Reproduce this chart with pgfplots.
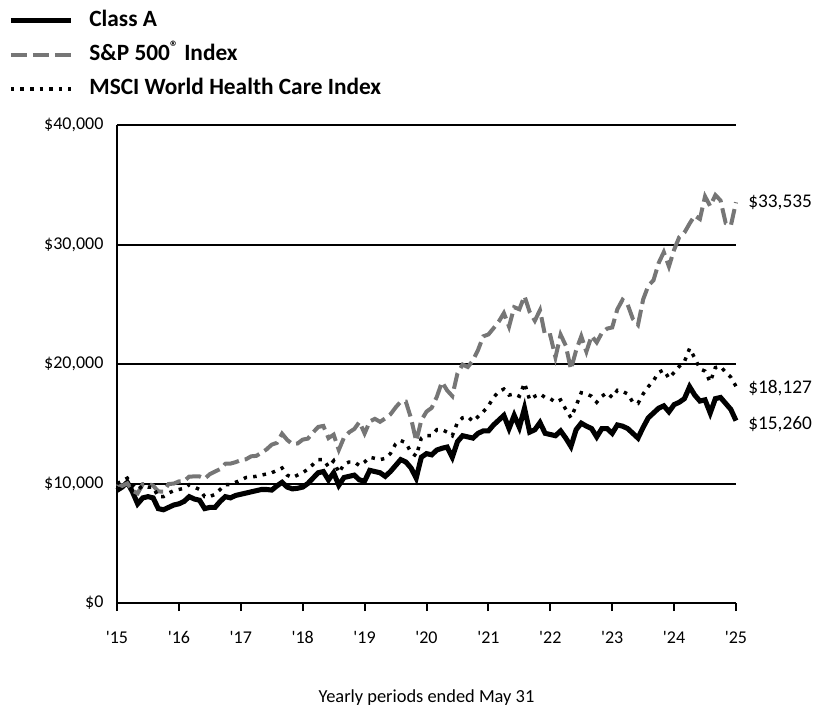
\documentclass[border=0pt]{standalone}
\usepackage{fontspec}
\setmainfont{Carlito}
\usepackage{pgfplots}
\usepackage{pgfplotstable}
\pgfplotsset{compat=1.18}
\definecolor{spgrey}{RGB}{118,118,118}

\pgfplotstableread{
m classa sp msci
0 9425 10000 10000
1 9700 9806 10200
2 10100 10012 10450
3 9300 9408 9900
4 8300 9176 9500
5 8800 9950 9800
6 8900 9980 9700
7 8800 9822 9700
8 7900 9335 8900
9 7800 9323 8900
10 8000 9955 9200
11 8200 9994 9400
12 8300 10174 9500
13 8500 10200 9600
14 8900 10577 9900
15 8700 10592 9700
16 8600 10594 9500
17 7900 10401 8900
18 8000 10786 8900
19 8000 10999 9100
20 8500 11208 9500
21 8900 11653 9900
22 8800 11667 9900
23 9000 11787 10100
24 9100 11953 10300
25 9200 12027 10500
26 9300 12275 10550
27 9400 12313 10600
28 9500 12567 10700
29 9500 12860 10800
30 9450 13254 10900
31 9800 13401 11100
32 10100 14169 11300
33 9700 13646 10700
34 9550 13300 10500
35 9600 13350 10700
36 9700 13672 10900
37 10000 13757 11200
38 10450 14269 11600
39 10900 14734 12000
40 11000 14818 12000
41 10300 13804 11400
42 10900 14086 11900
43 9850 12814 10900
44 10500 13841 11600
45 10600 14285 11800
46 10700 14562 11800
47 10300 15152 11500
48 10200 14190 11800
49 11100 15190 12200
50 11000 15409 12100
51 10900 15165 12000
52 10600 15449 12100
53 11000 15784 12500
54 11500 16357 13300
55 12000 16851 13600
56 11800 16844 13400
57 11300 15458 12600
58 10450 13549 12300
59 12200 15286 13800
60 12500 16013 14000
61 12400 16332 14000
62 12800 17253 14500
63 12950 18493 14500
64 13050 17791 14300
65 12200 17318 14000
66 13500 19214 15100
67 14000 19952 15500
68 13900 19750 15600
69 13800 20295 15200
70 14200 21184 15600
71 14400 22315 16000
72 14400 22471 16500
73 14900 22995 17200
74 15300 23542 17700
75 15700 24258 17900
76 14600 23130 17400
77 15700 24751 17500
78 14700 24581 17300
79 16300 25683 18400
80 14300 24355 17000
81 14500 23627 17300
82 15100 24504 17500
83 14200 22367 17200
84 14100 22407 17100
85 14000 20558 16800
86 14400 22453 17000
87 13800 21537 16200
88 13100 19553 15500
89 14500 21137 16500
90 15050 22319 17600
91 14800 21033 17500
92 14600 22354 17300
93 13900 21808 16800
94 14600 22609 17300
95 14600 22961 17600
96 14200 23060 17200
97 14900 24584 17800
98 14800 25373 17700
99 14600 24970 17500
100 14200 23779 16800
101 13800 23280 16700
102 14700 25405 17500
103 15500 26558 18100
104 15900 27004 18600
105 16300 28446 19300
106 16500 29362 19500
107 16000 28164 18800
108 16600 29561 19300
109 16800 30623 19800
110 17100 30996 20200
111 18100 31750 21300
112 17400 32429 20500
113 16900 32134 19600
114 17000 34020 19400
115 15900 33210 18500
116 17100 34133 19700
117 17200 33689 19800
118 16700 31792 19300
119 16200 31576 18900
120 15260 33535 18127
}\data

\begin{document}
\begin{tikzpicture}
\path[use as bounding box] (-87.75pt,-78.75pt) rectangle (528pt,452.25pt);
\begin{axis}[
  at={(0pt,0pt)}, anchor=south west,
  scale only axis,
  width=464.25pt, height=358.5pt,
  xmin=0, xmax=120, ymin=0, ymax=40000,
  scaled y ticks=false,
  axis x line*=bottom, axis y line*=left,
  axis line style={line width=1.5pt, -},
  xtick={0,12,...,120},
  xticklabels={\textquotesingle15,\textquotesingle16,\textquotesingle17,\textquotesingle18,\textquotesingle19,\textquotesingle20,\textquotesingle21,\textquotesingle22,\textquotesingle23,\textquotesingle24,\textquotesingle25},
  ytick={0,10000,20000,30000,40000},
  yticklabels={{\$0},{\$10,000},{\$20,000},{\$30,000},{\$40,000}},
  ymajorgrids,
  major grid style={line width=1.5pt, black},
  x tick style={line width=1.5pt, black},
  xtick pos=bottom,
  major tick length=6pt,
  tick align=outside,
  y tick style={draw=none},
  xticklabel style={font=\fontsize{13.5}{15}\selectfont, anchor=center, yshift=-20pt},
  yticklabel style={font=\fontsize{13.5}{15}\selectfont, anchor=east, inner sep=0pt, xshift=-4pt},
  xlabel={Yearly periods ended May 31},
  xlabel style={font=\fontsize{13.8}{16}\selectfont, at={(axis description cs:0.5,0)}, anchor=center, yshift=-71pt},
  clip=false,
  legend cell align=left,
  legend image code/.code={\draw[#1] (0pt,0pt) -- (45pt,0pt);},
  legend style={at={(axis description cs:-0.176,1.24)}, anchor=north west, draw=none, fill=none, inner sep=0pt,
    font=\bfseries\fontsize{17.5}{20}\selectfont, row sep=10pt,
    nodes={inner sep=0pt, text height=12pt, text depth=3.5pt},
    /tikz/every odd column/.append style={column sep=12pt}},
]
\addplot[black, line width=3.8pt, line join=miter] table[x=m, y=classa] {\data};
\addlegendentry{Class A}
\addplot[spgrey, line width=3pt, dash pattern=on 12pt off 4.5pt] table[x=m, y=sp] {\data};
\addlegendentry{S\&P 500\textsuperscript{\textregistered} Index}
\addplot[black, line width=2.6pt, dash pattern=on 2.6pt off 4.6pt] table[x=m, y=msci] {\data};
\addlegendentry{MSCI World Health Care Index}
\node[anchor=west, font=\fontsize{14.5}{17}\selectfont, inner sep=0pt] at (axis cs:120,33535) [xshift=9pt] {\$33,535};
\node[anchor=west, font=\fontsize{14.5}{17}\selectfont, inner sep=0pt] at (axis cs:120,18127) [xshift=9pt, yshift=-1pt] {\$18,127};
\node[anchor=west, font=\fontsize{14.5}{17}\selectfont, inner sep=0pt] at (axis cs:120,15260) [xshift=9pt, yshift=-3pt] {\$15,260};
\end{axis}
\end{tikzpicture}
\end{document}
